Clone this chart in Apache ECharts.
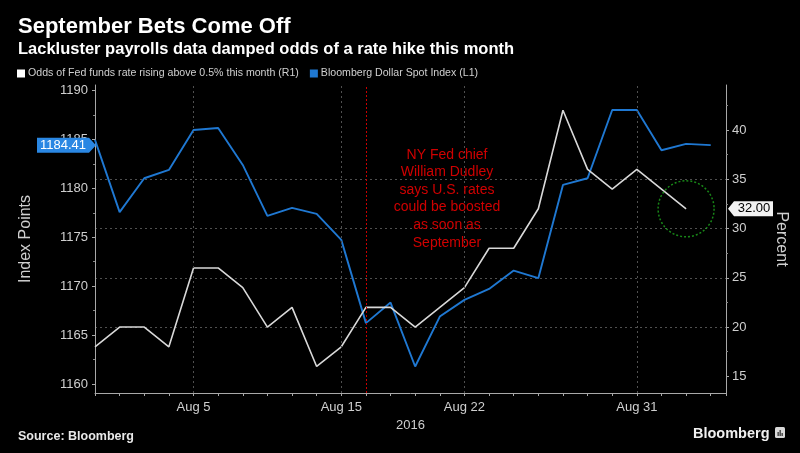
<!DOCTYPE html>
<html>
<head>
<meta charset="utf-8">
<script src="https://cdn.jsdelivr.net/npm/echarts@6.0.0/dist/echarts.min.js"></script>
<style>
html,body{margin:0;padding:0;background:#000;}
#chart{width:800px;height:453px;}
</style>
</head>
<body>
<div id="chart"></div>
<script>
// ---- data ----
const dates = ['Aug 1','Aug 2','Aug 3','Aug 4','Aug 5','Aug 8','Aug 9','Aug 10','Aug 11','Aug 12',
  'Aug 15','Aug 16','Aug 17','Aug 18','Aug 19','Aug 22','Aug 23','Aug 24','Aug 25','Aug 26',
  'Aug 29','Aug 30','Aug 31','Sep 1','Sep 2','Sep 6'];
const labeledDates = ['Aug 5','Aug 15','Aug 22','Aug 31'];
const eventDate = 'Aug 16';
const dollarIndex = [1184.95,1177.57,1181.03,1181.88,1185.96,1186.17,1182.39,1177.18,1178.00,1177.39,
  1174.73,1166.22,1168.32,1161.79,1166.89,1168.60,1169.72,1171.59,1170.82,1180.35,
  1181.03,1188.00,1188.00,1183.89,1184.54,1184.41];
const fedOdds = [18,20,20,18,26,26,24,20,22,16,18,22,22,20,22,24,28,28,32,42,36,34,36,34,32];
const leftTicks = [1160,1165,1170,1175,1180,1185,1190];
const rightTicks = [15,20,25,30,35,40];
const xYearLabel = '2016';
const titleText = 'September Bets Come Off';
const subtitleText = 'Lackluster payrolls data damped odds of a rate hike this month';
const oddsName = 'Odds of Fed funds rate rising above 0.5% this month (R1)';
const dollarName = 'Bloomberg Dollar Spot Index (L1)';
const annotation = 'NY Fed chief\nWilliam Dudley\nsays U.S. rates\ncould be boosted\nas soon as\nSeptember';

const FONT = "'Liberation Sans', Arial, sans-serif";

const oddsData = fedOdds.map((v, i) => [i, v]);
const dollarData = dollarIndex.map((v, i) => [i, v]);
const gridIdx = labeledDates.map(d => dates.indexOf(d));
const eventIdx = dates.indexOf(eventDate);
const lastOddsIdx = fedOdds.length - 1;
const lastDollarIdx = dollarIndex.length - 1;

const chart = echarts.init(document.getElementById('chart'), null, {renderer: 'canvas'});
const gridLineStyle = {color: '#505050', type: [2, 3], width: 1};
const axisColor = '#a8a8a8';
const labelColor = '#cfcfcf';

chart.setOption({
  animation: false,
  backgroundColor: '#000',
  textStyle: {fontFamily: FONT},
  title: {
    text: titleText,
    subtext: subtitleText,
    left: 13, top: 11, itemGap: 3,
    textStyle: {color: '#fff', fontSize: 22, fontWeight: 'bold', fontFamily: FONT},
    subtextStyle: {color: '#fff', fontSize: 16.5, fontWeight: 'bold', fontFamily: FONT}
  },
  legend: {
    data: [oddsName, dollarName],
    left: 17, top: 68, padding: 0,
    icon: 'rect', itemWidth: 8, itemHeight: 8, itemGap: 11,
    textStyle: {color: '#d0d0d0', fontSize: 10.6, fontFamily: FONT, padding: [0, 0, 0, -2]}
  },
  grid: {left: 95, right: 74, top: 85, bottom: 60},
  xAxis: {
    type: 'value', min: 0, max: 25.62, interval: 1,
    axisLine: {lineStyle: {color: axisColor}},
    axisTick: {show: true, length: 3, lineStyle: {color: axisColor}},
    axisLabel: {
      color: labelColor, fontSize: 13, margin: 8,
      formatter: v => (Number.isInteger(v) && labeledDates.indexOf(dates[v]) >= 0) ? dates[v] : ''
    },
    splitLine: {show: false},
    name: xYearLabel, nameLocation: 'middle', nameGap: 25,
    nameTextStyle: {color: labelColor, fontSize: 13}
  },
  yAxis: [{
    type: 'value', position: 'left', min: 1159.08, max: 1190.56, splitNumber: 5,
    axisLine: {show: true, lineStyle: {color: axisColor}},
    axisTick: {show: true, length: 3, lineStyle: {color: axisColor}, customValues: leftTicks},
    minorTick: {show: true, splitNumber: 2, length: 2, lineStyle: {color: '#888'}},
    axisLabel: {color: labelColor, fontSize: 13, margin: 7,
      formatter: v => leftTicks.indexOf(v) >= 0 ? String(v) : ''},
    splitLine: {show: false},
    name: 'Index Points', nameLocation: 'middle', nameGap: 61,
    nameTextStyle: {color: labelColor, fontSize: 16}
  }, {
    type: 'value', position: 'right', min: 13.31, max: 44.56, splitNumber: 5,
    axisLine: {show: true, lineStyle: {color: axisColor}},
    axisTick: {show: true, length: 3, lineStyle: {color: axisColor}, customValues: rightTicks},
    minorTick: {show: true, splitNumber: 2, length: 2, lineStyle: {color: '#888'}},
    axisLabel: {color: labelColor, fontSize: 13, margin: 6,
      formatter: v => rightTicks.indexOf(v) >= 0 ? String(v) : ''},
    splitLine: {show: true, showMinLine: false, showMaxLine: false, lineStyle: gridLineStyle},
    name: 'Percent', nameLocation: 'middle', nameGap: 47, nameRotate: -90,
    nameTextStyle: {color: labelColor, fontSize: 16}
  }],
  series: [{
    name: oddsName, type: 'line', yAxisIndex: 1, data: oddsData,
    symbol: 'none', z: 3,
    lineStyle: {color: '#d8d8d8', width: 1.6},
    itemStyle: {color: '#ffffff'},
    markLine: {
      silent: true, symbol: 'none', label: {show: false}, animation: false,
      data: gridIdx.map(i => ({xAxis: i, lineStyle: gridLineStyle}))
        .concat([{xAxis: eventIdx, lineStyle: {color: '#c80000', type: [2, 2], width: 1}}])
    }
  }, {
    name: dollarName, type: 'line', yAxisIndex: 0, data: dollarData,
    symbol: 'none', z: 2,
    lineStyle: {color: '#1f78d2', width: 1.9},
    itemStyle: {color: '#1f78d2'}
  }, {
    name: 'highlight', type: 'scatter', yAxisIndex: 1,
    data: [[lastOddsIdx, fedOdds[lastOddsIdx]]],
    symbolSize: 56, silent: true, z: 4,
    itemStyle: {color: 'rgba(0,0,0,0)', borderColor: '#1ea81e', borderWidth: 1.5, borderType: [2, 2]}
  }]
});

// value tags placed through the library's scales
const pL = chart.convertToPixel({xAxisIndex: 0, yAxisIndex: 0}, [lastDollarIdx, dollarIndex[lastDollarIdx]]);
const pR = chart.convertToPixel({xAxisIndex: 0, yAxisIndex: 1}, [lastOddsIdx, fedOdds[lastOddsIdx]]);
const axL = 95, axR = 726;
const yl = pL[1], yr = pR[1];
chart.setOption({
  graphic: [
    {type: 'polygon', z: 100, shape: {points: [[37, yl - 7.5], [89, yl - 7.5], [axL + 1, yl], [89, yl + 7.5], [37, yl + 7.5]]},
      style: {fill: '#2a87e3'}},
    {type: 'text', z: 101, x: 63, y: yl, style: {text: dollarIndex[lastDollarIdx].toFixed(2), fill: '#fff',
      font: '13px ' + FONT, textAlign: 'center', textVerticalAlign: 'middle'}},
    {type: 'polygon', z: 100, shape: {points: [[axR + 2, yr], [axR + 8, yr - 7.5], [axR + 47, yr - 7.5], [axR + 47, yr + 7.5], [axR + 8, yr + 7.5]]},
      style: {fill: '#f2f2f2'}},
    {type: 'text', z: 101, x: axR + 28, y: yr, style: {text: fedOdds[lastOddsIdx].toFixed(2), fill: '#000',
      font: '13px ' + FONT, textAlign: 'center', textVerticalAlign: 'middle'}},
    {type: 'text', z: 50, x: 447, y: 146, style: {text: annotation, fill: '#d00000',
      font: '14px ' + FONT, textAlign: 'center', lineHeight: 17.6}},
    {type: 'text', x: 18, y: 430, style: {text: 'Source: Bloomberg', fill: '#e8e8e8',
      font: 'bold 12.5px ' + FONT}},
    {type: 'text', x: 693, y: 426, style: {text: 'Bloomberg', fill: '#f0f0f0',
      font: 'bold 14.5px ' + FONT}},
    {type: 'rect', x: 775, y: 427, shape: {width: 10, height: 11, r: 1.5}, style: {fill: '#d8d8d8'}},
    {type: 'rect', x: 777.5, y: 432, shape: {width: 1.3, height: 4}, style: {fill: '#333'}},
    {type: 'rect', x: 779.5, y: 430, shape: {width: 1.3, height: 6}, style: {fill: '#333'}},
    {type: 'rect', x: 781.5, y: 433, shape: {width: 1.3, height: 3}, style: {fill: '#333'}}
  ]
});
</script>
</body>
</html>
